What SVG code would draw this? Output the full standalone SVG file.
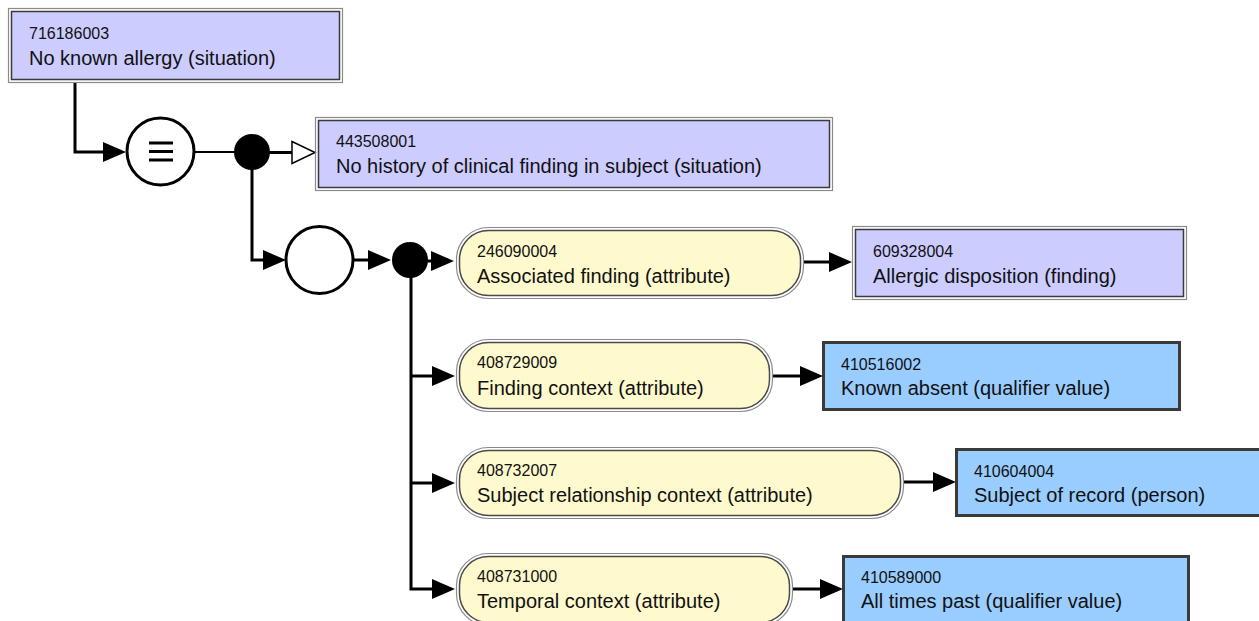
<svg xmlns="http://www.w3.org/2000/svg" width="1259" height="621" viewBox="0 0 1259 621">
  <style>
    text { font-family: "Liberation Sans", Arial, sans-serif; fill: #111; }
    .id { font-size: 16px; }
    .lbl { font-size: 20px; }
    .frame { fill: none; stroke: #8a8a8a; stroke-width: 1.2; }
    .prim { fill: #CCCCFF; stroke: #3a3a3a; stroke-width: 1.5; }
    .attr { fill: #FFFACD; stroke: #4a4a4a; stroke-width: 1.5; }
    .qual { fill: #99CCFF; stroke: #3a3a3a; stroke-width: 3; }
    .conn { fill: none; stroke: #000; stroke-width: 3; }
  </style>
  <defs>
    <marker id="arrow" markerUnits="userSpaceOnUse" markerWidth="24" markerHeight="20" viewBox="0 0 24 20" refX="0" refY="10" orient="auto">
      <path d="M0 0 L23 10 L0 20 z" fill="#000"/>
    </marker>
    <marker id="isa" markerUnits="userSpaceOnUse" markerWidth="26" markerHeight="26" viewBox="0 0 26 26" refX="1" refY="13" orient="auto">
      <path d="M1 2 L24 13 L1 24 z" fill="#fff" stroke="#000" stroke-width="1.5"/>
    </marker>
  </defs>

  <!-- connectors -->
  <g id="connectors">
    <path class="conn" d="M75 82 V152 H103" marker-end="url(#arrow)"/>
    <path fill="none" stroke="#000" stroke-width="2" d="M195 152 H236"/>
    <path class="conn" d="M268 152.5 H292" marker-end="url(#isa)"/>
    <path class="conn" d="M252 168 V260 H263" marker-end="url(#arrow)"/>
    <path class="conn" d="M353 260 H368" marker-end="url(#arrow)"/>
    <path class="conn" d="M426 261 H431" marker-end="url(#arrow)"/>
    <path class="conn" d="M411 276 V589 H432" marker-end="url(#arrow)"/>
    <path class="conn" d="M411 376 H432" marker-end="url(#arrow)"/>
    <path class="conn" d="M411 483 H432" marker-end="url(#arrow)"/>
    <path class="conn" d="M803 262 H829" marker-end="url(#arrow)"/>
    <path class="conn" d="M772 376 H800" marker-end="url(#arrow)"/>
    <path class="conn" d="M903 482 H933" marker-end="url(#arrow)"/>
    <path class="conn" d="M792 589 H820" marker-end="url(#arrow)"/>
  </g>

  <!-- concept 716186003 -->
  <g id="n716186003">
    <rect class="frame" x="8.5" y="8.5" width="334" height="74"/>
    <rect class="prim" x="11.5" y="11.5" width="328" height="68"/>
    <text class="id" x="29" y="39">716186003</text>
    <text class="lbl" x="29" y="65">No known allergy (situation)</text>
  </g>

  <!-- definition status: equivalent -->
  <g id="defStatus">
    <circle cx="160.5" cy="151.5" r="33.5" fill="#fff" stroke="#000" stroke-width="3"/>
    <path d="M149 143 H173 M149 151.5 H173 M149 160 H173" stroke="#000" stroke-width="3.2"/>
  </g>

  <!-- conjunction points -->
  <g id="conj1"><circle cx="252" cy="152" r="18" fill="#000"/></g>
  <g id="group1"><circle cx="319.5" cy="260" r="33.5" fill="#fff" stroke="#000" stroke-width="3"/></g>
  <g id="conj2"><circle cx="410" cy="260" r="18" fill="#000"/></g>

  <!-- concept 443508001 -->
  <g id="n443508001">
    <rect class="frame" x="315.5" y="117.5" width="517" height="73"/>
    <rect class="prim" x="318.5" y="120.5" width="511" height="67"/>
    <text class="id" x="336" y="147">443508001</text>
    <text class="lbl" x="336" y="173">No history of clinical finding in subject (situation)</text>
  </g>

  <!-- attribute 246090004 -->
  <g id="a246090004">
    <rect class="frame" x="456.5" y="227.5" width="347" height="71" rx="32" ry="32"/>
    <rect class="attr" x="459.5" y="230.5" width="341" height="65" rx="29" ry="29"/>
    <text class="id" x="477" y="257">246090004</text>
    <text class="lbl" x="477" y="283">Associated finding (attribute)</text>
  </g>

  <!-- concept 609328004 -->
  <g id="n609328004">
    <rect class="frame" x="852.5" y="226.5" width="334" height="73"/>
    <rect class="prim" x="855.5" y="229.5" width="328" height="67"/>
    <text class="id" x="873" y="257">609328004</text>
    <text class="lbl" x="873" y="283">Allergic disposition (finding)</text>
  </g>

  <!-- attribute 408729009 -->
  <g id="a408729009">
    <rect class="frame" x="456.5" y="339.5" width="316" height="72" rx="32" ry="32"/>
    <rect class="attr" x="459.5" y="342.5" width="310" height="66" rx="29" ry="29"/>
    <text class="id" x="477" y="368">408729009</text>
    <text class="lbl" x="477" y="395">Finding context (attribute)</text>
  </g>

  <!-- value 410516002 -->
  <g id="n410516002">
    <rect class="qual" x="823.5" y="342.5" width="356" height="67"/>
    <text class="id" x="841" y="370">410516002</text>
    <text class="lbl" x="841" y="395">Known absent (qualifier value)</text>
  </g>

  <!-- attribute 408732007 -->
  <g id="a408732007">
    <rect class="frame" x="456.5" y="447.5" width="447" height="71" rx="32" ry="32"/>
    <rect class="attr" x="459.5" y="450.5" width="441" height="65" rx="29" ry="29"/>
    <text class="id" x="477" y="476">408732007</text>
    <text class="lbl" x="477" y="502">Subject relationship context (attribute)</text>
  </g>

  <!-- value 410604004 -->
  <g id="n410604004">
    <rect class="qual" x="956.5" y="449.5" width="330" height="66"/>
    <text class="id" x="974" y="477">410604004</text>
    <text class="lbl" x="974" y="502">Subject of record (person)</text>
  </g>

  <!-- attribute 408731000 -->
  <g id="a408731000">
    <rect class="frame" x="456.5" y="553.5" width="336" height="72" rx="32" ry="32"/>
    <rect class="attr" x="459.5" y="556.5" width="330" height="66" rx="29" ry="29"/>
    <text class="id" x="477" y="582">408731000</text>
    <text class="lbl" x="477" y="608">Temporal context (attribute)</text>
  </g>

  <!-- value 410589000 -->
  <g id="n410589000">
    <rect class="qual" x="843.5" y="556.5" width="345" height="68"/>
    <text class="id" x="861" y="583">410589000</text>
    <text class="lbl" x="861" y="608">All times past (qualifier value)</text>
  </g>
</svg>
